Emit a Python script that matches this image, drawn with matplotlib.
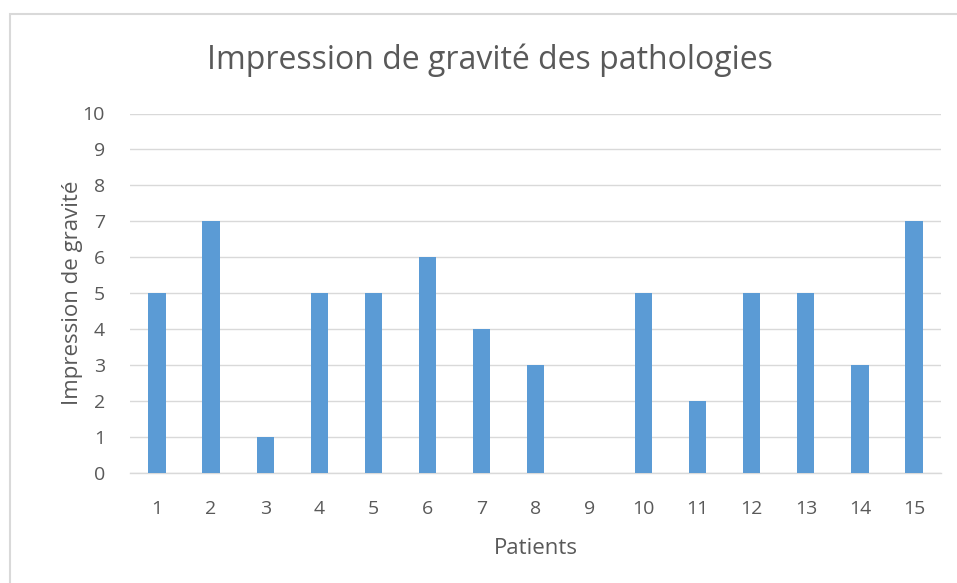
import matplotlib
matplotlib.use("Agg")
import matplotlib.pyplot as plt
from matplotlib.patches import Rectangle

patients = [str(i) for i in range(1, 16)]
gravite = [5, 7, 1, 5, 5, 6, 4, 3, 0, 5, 2, 5, 5, 3, 7]
yticks = list(range(0, 11))

W, H = 957, 583
fig = plt.figure(figsize=(W / 100, H / 100), dpi=100)
plt.rcParams['font.family'] = ['Open Sans', 'DejaVu Sans']

# chart frame
fig.patches.append(Rectangle((10 / W, -0.05), 1.1, 1 - 14 / H + 0.05,
                             transform=fig.transFigure, fill=False,
                             edgecolor='#d9d9d9', linewidth=1.5))

ax = fig.add_axes([130 / W, 1 - 472.5 / H, (941 - 130) / W, (472.5 - 113.5) / H])
x = list(range(len(patients)))
ax.bar(x, gravite, width=0.32, color='#5b9bd5', zorder=3)
ax.set_xlim(-0.5, len(patients) - 0.5)
ax.set_ylim(0, 10)
ax.set_yticks(yticks)
ax.set_xticks(x)
ax.set_xticklabels(patients)
ax.grid(axis='y', color='#d9d9d9', linewidth=1, zorder=0)
for s in ['top', 'right', 'left']:
    ax.spines[s].set_visible(False)
ax.spines['bottom'].set_color('#d9d9d9')
ax.spines['bottom'].set_linewidth(1)
ax.tick_params(axis='both', length=0, labelsize=14, labelcolor='#595959')
ax.tick_params(axis='x', pad=20)
ax.tick_params(axis='y', pad=18)
ax.set_xlabel('Patients', fontsize=16, color='#595959', labelpad=14)
ax.set_ylabel('Impression de gravité', fontsize=16, color='#595959', labelpad=0)
fig.text(490 / W, 1 - 60 / H, 'Impression de gravité des pathologies',
         ha='center', va='center', fontsize=23, color='#595959')

fig.savefig('out.png', dpi=100)
